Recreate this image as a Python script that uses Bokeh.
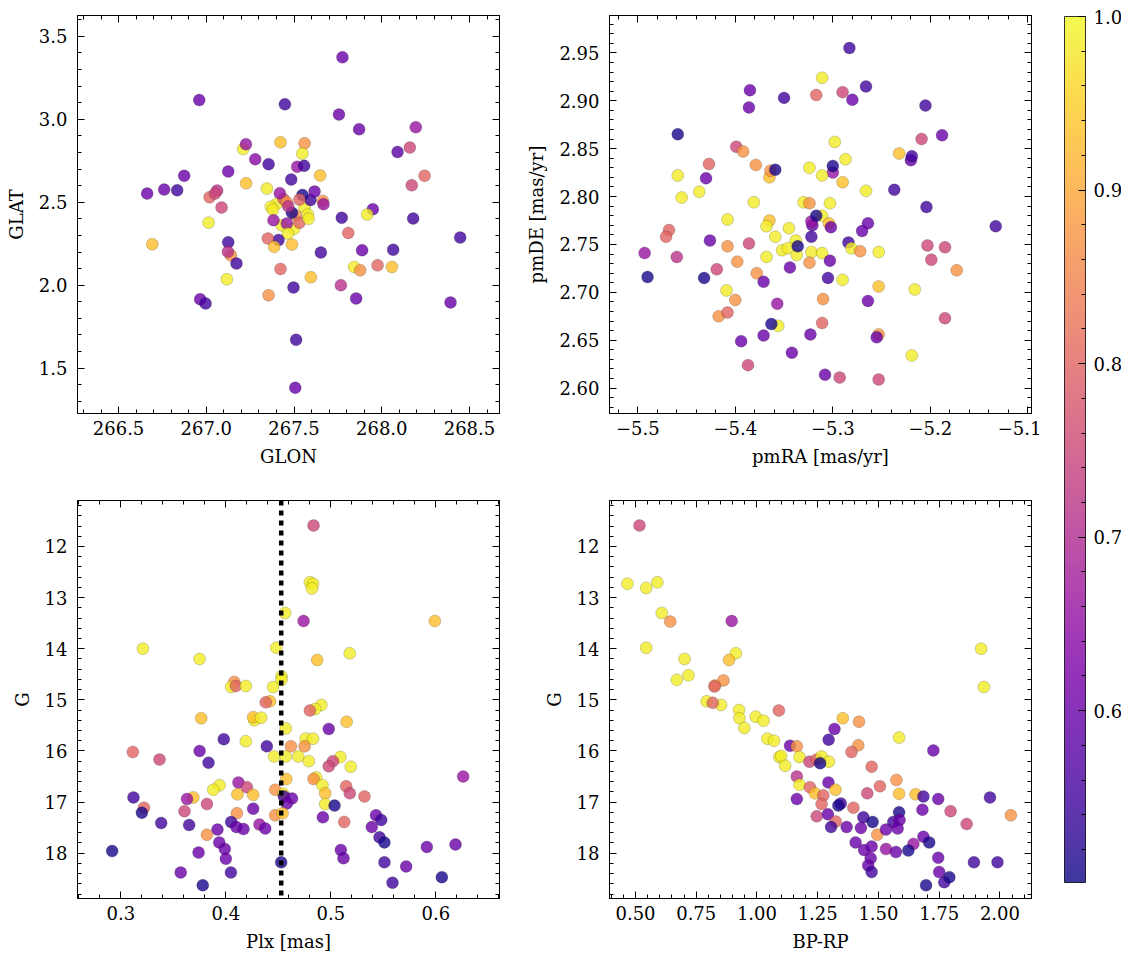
import numpy as np
from bokeh.plotting import figure
from bokeh.models import (ColumnDataSource, LinearColorMapper, ColorBar, LinearAxis,
                          SingleIntervalTicker, FixedTicker, Span, Range1d,
                          CustomJSTickFormatter, CustomLabelingPolicy)
from bokeh.palettes import Plasma256
from bokeh.transform import transform
from bokeh.layouts import row, column
from bokeh.embed import file_html
from bokeh.resources import INLINE

# ---------------- data ----------------
# membership probability range of the colour bar
prob_low, prob_high = 0.501, 1.0
colorbar_ticks = [0.6, 0.7, 0.8, 0.9, 1.0]

# Panel 1: sky positions
glon = [267.400, 267.430, 267.500, 267.510, 267.440, 267.560,
        267.776, 266.960, 267.448, 267.756, 267.871, 268.194, 267.423, 267.560, 267.210, 267.226,
        267.547, 268.090, 268.160, 267.279, 267.355, 267.518, 267.558, 267.125, 266.874, 267.484,
        267.649, 268.244, 267.227, 266.663, 266.760, 266.834, 267.019, 267.062, 267.050, 267.087,
        267.345, 267.419, 267.594, 267.548, 267.617, 267.664, 267.668, 267.459, 267.531, 268.171,
        267.949, 267.917, 268.179, 268.447, 267.772, 267.809, 267.368, 267.380, 267.383, 267.488,
        267.467, 267.459, 267.531, 267.579, 267.583, 267.465, 267.488, 267.412, 267.351, 267.387,
        267.013, 266.692, 267.125, 267.140, 267.123, 267.172, 267.117, 267.423, 267.653, 267.888,
        268.065, 267.843, 267.877, 267.976, 268.058, 267.596, 267.497, 267.355, 267.767, 267.854,
        266.965, 266.996, 268.392, 267.512, 267.507]
glat = [2.490, 2.360, 2.340, 2.420, 2.520, 2.470,
        3.373, 3.116, 3.090, 3.028, 2.940, 2.952, 2.861, 2.855, 2.820, 2.849,
        2.793, 2.803, 2.829, 2.759, 2.729, 2.713, 2.719, 2.685, 2.659, 2.637,
        2.661, 2.659, 2.614, 2.552, 2.576, 2.572, 2.530, 2.570, 2.552, 2.468,
        2.582, 2.554, 2.514, 2.544, 2.564, 2.508, 2.488, 2.500, 2.516, 2.602,
        2.458, 2.426, 2.402, 2.287, 2.406, 2.315, 2.472, 2.455, 2.392, 2.436,
        2.476, 2.372, 2.376, 2.426, 2.400, 2.311, 2.245, 2.273, 2.281, 2.231,
        2.377, 2.247, 2.259, 2.180, 2.201, 2.131, 2.036, 2.098, 2.197, 2.211,
        2.213, 2.110, 2.090, 2.120, 2.110, 2.048, 1.986, 1.940, 2.000, 1.920,
        1.916, 1.890, 1.896, 1.671, 1.382]
prob_sky = [0.985, 0.985, 0.985, 0.87, 0.80, 0.985,
            0.60, 0.60, 0.55, 0.60, 0.60, 0.66, 0.93, 0.87, 0.985, 0.66,
            0.985, 0.58, 0.75, 0.64, 0.55, 0.66, 0.55, 0.60, 0.60, 0.55,
            0.93, 0.80, 0.93, 0.60, 0.60, 0.55, 0.80, 0.71, 0.75, 0.75,
            0.985, 0.66, 0.55, 0.51, 0.60, 0.87, 0.66, 0.87, 0.80, 0.75,
            0.60, 0.985, 0.55, 0.55, 0.55, 0.80, 0.985, 0.985, 0.66, 0.51,
            0.71, 0.66, 0.80, 0.985, 0.985, 0.985, 0.93, 0.55, 0.80, 0.93,
            0.985, 0.93, 0.55, 0.87, 0.71, 0.55, 0.985, 0.80, 0.55, 0.60,
            0.55, 0.985, 0.87, 0.80, 0.93, 0.93, 0.55, 0.87, 0.71, 0.60,
            0.60, 0.55, 0.60, 0.55, 0.60]

# Panel 2: proper motions
pmra = [-5.283, -5.311, -5.385, -5.386, -5.350, -5.317, -5.290, -5.280, -5.266, -5.205,
        -5.459, -5.188, -5.209, -5.298, -5.399, -5.392, -5.232, -5.220, -5.219, -5.427,
        -5.379, -5.287, -5.365, -5.364, -5.359, -5.324, -5.300, -5.300, -5.311, -5.290,
        -5.459, -5.430, -5.437, -5.455, -5.266, -5.237, -5.204, -5.330, -5.324, -5.303,
        -5.381, -5.311, -5.304, -5.321, -5.322, -5.317, -5.302, -5.408, -5.365, -5.368,
        -5.345, -5.264, -5.270, -5.133, -5.468, -5.471, -5.426, -5.386, -5.408, -5.359,
        -5.352, -5.338, -5.346, -5.337, -5.336, -5.322, -5.322, -5.311, -5.284, -5.281,
        -5.272, -5.253, -5.203, -5.185, -5.199, -5.173, -5.493, -5.460, -5.490, -5.432,
        -5.419, -5.398, -5.368, -5.344, -5.324, -5.303, -5.378, -5.371, -5.305, -5.290,
        -5.409, -5.400, -5.310, -5.253, -5.216, -5.264, -5.357, -5.417, -5.408, -5.185,
        -5.356, -5.363, -5.311, -5.371, -5.394, -5.323, -5.253, -5.255, -5.342, -5.219,
        -5.387, -5.308, -5.293, -5.253]
pmde = [2.955, 2.924, 2.911, 2.893, 2.903, 2.906, 2.909, 2.901, 2.915, 2.895,
        2.865, 2.864, 2.860, 2.857, 2.852, 2.847, 2.845, 2.838, 2.842, 2.834,
        2.833, 2.839, 2.820, 2.827, 2.828, 2.830, 2.825, 2.832, 2.822, 2.815,
        2.822, 2.819, 2.805, 2.799, 2.806, 2.807, 2.789, 2.794, 2.793, 2.793,
        2.794, 2.780, 2.772, 2.770, 2.774, 2.780, 2.768, 2.776, 2.775, 2.769,
        2.767, 2.772, 2.764, 2.769, 2.765, 2.758, 2.754, 2.751, 2.748, 2.758,
        2.744, 2.754, 2.746, 2.739, 2.748, 2.758, 2.742, 2.741, 2.752, 2.746,
        2.743, 2.742, 2.749, 2.747, 2.734, 2.723, 2.741, 2.737, 2.716, 2.715,
        2.724, 2.732, 2.737, 2.726, 2.731, 2.733, 2.720, 2.711, 2.715, 2.713,
        2.702, 2.692, 2.693, 2.706, 2.703, 2.691, 2.688, 2.675, 2.679, 2.673,
        2.665, 2.667, 2.668, 2.655, 2.649, 2.656, 2.656, 2.653, 2.637, 2.634,
        2.624, 2.614, 2.611, 2.609]
prob_pm = [0.55, 0.985, 0.60, 0.60, 0.55, 0.80, 0.75, 0.60, 0.55, 0.55,
           0.51, 0.60, 0.75, 0.985, 0.75, 0.87, 0.93, 0.60, 0.55, 0.80,
           0.87, 0.985, 0.93, 0.87, 0.51, 0.985, 0.66, 0.51, 0.985, 0.93,
           0.985, 0.60, 0.985, 0.985, 0.985, 0.55, 0.55, 0.985, 0.87, 0.985,
           0.985, 0.985, 0.93, 0.60, 0.66, 0.51, 0.60, 0.985, 0.93, 0.985,
           0.985, 0.60, 0.60, 0.55, 0.80, 0.80, 0.60, 0.75, 0.87, 0.985,
           0.985, 0.985, 0.985, 0.985, 0.51, 0.55, 0.985, 0.985, 0.55, 0.985,
           0.87, 0.985, 0.75, 0.75, 0.75, 0.87, 0.66, 0.71, 0.51, 0.51,
           0.75, 0.87, 0.985, 0.60, 0.87, 0.60, 0.87, 0.60, 0.55, 0.985,
           0.985, 0.87, 0.87, 0.93, 0.985, 0.60, 0.66, 0.87, 0.80, 0.75,
           0.985, 0.51, 0.80, 0.60, 0.60, 0.60, 0.87, 0.60, 0.60, 0.985,
           0.75, 0.60, 0.75, 0.75]

# Panel 3: parallax vs G
plx = [0.4835, 0.480, 0.483, 0.482, 0.4565, 0.474, 0.599, 0.321, 0.375, 0.448,
       0.518, 0.487, 0.453, 0.453, 0.408, 0.405, 0.4095, 0.419, 0.445, 0.442,
       0.438, 0.491, 0.485, 0.480, 0.3765, 0.427, 0.426, 0.4336, 0.515, 0.457,
       0.498, 0.398, 0.419, 0.476, 0.483, 0.375, 0.439, 0.462, 0.475, 0.446,
       0.457, 0.469, 0.479, 0.3114, 0.3368, 0.3835, 0.509, 0.502, 0.498, 0.519,
       0.626, 0.486, 0.4575, 0.4835, 0.394, 0.388, 0.412, 0.420, 0.492, 0.4946,
       0.5146, 0.518, 0.532, 0.312, 0.369, 0.363, 0.411, 0.426, 0.447, 0.4546,
       0.4553, 0.463, 0.458, 0.382, 0.4946, 0.5035, 0.322, 0.320, 0.3606, 0.426,
       0.4105, 0.447, 0.454, 0.4924, 0.5127, 0.543, 0.548, 0.3384, 0.365, 0.405,
       0.410, 0.4168, 0.392, 0.432, 0.4375, 0.539, 0.382, 0.3937, 0.399, 0.400,
       0.5463, 0.551, 0.2917, 0.374, 0.5095, 0.512, 0.5914, 0.6187, 0.4527, 0.551,
       0.357, 0.4048, 0.5717, 0.6057, 0.5587, 0.378]
gmag_plx = [11.59, 12.70, 12.73, 12.82, 13.30, 13.46, 13.46, 14.00, 14.20, 13.98,
            14.09, 14.22, 14.54, 14.61, 14.65, 14.75, 14.73, 14.73, 14.75, 15.03,
            15.05, 15.10, 15.18, 15.21, 15.36, 15.40, 15.34, 15.35, 15.43, 15.56,
            15.57, 15.77, 15.81, 15.76, 15.76, 16.00, 15.91, 15.91, 15.91, 16.11,
            16.11, 16.11, 16.20, 16.02, 16.17, 16.23, 16.12, 16.20, 16.30, 16.31,
            16.50, 16.52, 16.55, 16.55, 16.67, 16.76, 16.62, 16.71, 16.67, 16.83,
            16.69, 16.83, 16.89, 16.91, 16.91, 16.94, 16.85, 16.86, 16.76, 16.84,
            16.89, 16.93, 17.03, 17.04, 17.04, 17.07, 17.11, 17.21, 17.18, 17.13,
            17.22, 17.26, 17.22, 17.30, 17.39, 17.26, 17.35, 17.41, 17.45, 17.39,
            17.49, 17.53, 17.54, 17.44, 17.52, 17.49, 17.64, 17.79, 17.92, 18.11,
            17.69, 17.79, 17.96, 17.99, 17.94, 18.10, 17.88, 17.83, 18.18, 18.18,
            18.38, 18.38, 18.26, 18.47, 18.58, 18.63]
prob_plx = [0.75, 0.985, 0.985, 0.985, 0.985, 0.66, 0.93, 0.985, 0.985, 0.985,
            0.985, 0.93, 0.985, 0.985, 0.87, 0.985, 0.80, 0.985, 0.985, 0.93,
            0.80, 0.985, 0.985, 0.80, 0.93, 0.985, 0.93, 0.985, 0.93, 0.985,
            0.60, 0.55, 0.985, 0.985, 0.985, 0.60, 0.55, 0.87, 0.87, 0.985,
            0.985, 0.985, 0.985, 0.80, 0.75, 0.55, 0.985, 0.75, 0.75, 0.985,
            0.66, 0.985, 0.93, 0.87, 0.985, 0.985, 0.66, 0.75, 0.985, 0.93,
            0.80, 0.75, 0.80, 0.55, 0.93, 0.66, 0.93, 0.93, 0.87, 0.985,
            0.55, 0.60, 0.60, 0.75, 0.985, 0.51, 0.80, 0.51, 0.75, 0.60,
            0.87, 0.87, 0.93, 0.60, 0.80, 0.60, 0.55, 0.55, 0.55, 0.55,
            0.60, 0.60, 0.60, 0.66, 0.60, 0.60, 0.87, 0.60, 0.60, 0.60,
            0.55, 0.51, 0.51, 0.60, 0.60, 0.60, 0.60, 0.60, 0.51, 0.55,
            0.60, 0.55, 0.60, 0.51, 0.55, 0.51]
plx_line = 0.4527

# Panel 4: colour-magnitude diagram
bp_rp = [0.5165, 0.467, 0.544, 0.590, 0.608, 0.643, 0.896, 0.544, 0.702, 0.718,
         0.670, 0.913, 0.885, 0.862, 0.827, 0.825, 0.793, 0.852, 0.818, 0.926,
         0.928, 0.948, 0.995, 1.027, 1.090, 1.043, 1.070, 1.092, 1.100, 1.116,
         1.136, 1.164, 1.175, 1.295, 1.319, 1.353, 1.420, 1.417, 1.389, 1.585,
         1.726, 1.216, 1.246, 1.266, 1.296, 1.260, 1.472, 1.164, 1.175, 1.218,
         1.239, 1.294, 1.323, 1.273, 1.164, 1.506, 1.574, 1.585, 1.454, 1.653,
         1.685, 1.746, 1.959, 1.345, 1.335, 1.266, 1.397, 1.681, 1.797, 1.585,
         2.045, 1.246, 1.292, 1.324, 1.438, 1.476, 1.561, 1.587, 1.579, 1.863,
         1.305, 1.369, 1.428, 1.495, 1.531, 1.685, 1.709, 1.406, 1.644, 1.441,
         1.472, 1.531, 1.572, 1.623, 1.468, 1.746, 1.893, 1.990, 1.458, 1.472,
         1.750, 1.771, 1.792, 1.696, 1.923, 1.934]
gmag_cmd = [11.59, 12.73, 12.81, 12.70, 13.30, 13.47, 13.46, 13.98, 14.20, 14.52,
            14.61, 14.09, 14.22, 14.62, 14.72, 14.74, 15.03, 15.10, 15.06, 15.20,
            15.36, 15.55, 15.33, 15.41, 15.21, 15.76, 15.80, 16.12, 16.10, 16.29,
            15.90, 15.91, 16.12, 15.78, 15.57, 15.36, 15.43, 15.89, 16.02, 15.74,
            15.99, 16.21, 16.17, 16.11, 16.21, 16.24, 16.31, 16.50, 16.66, 16.71,
            16.83, 16.62, 16.76, 16.87, 16.94, 16.69, 16.57, 16.84, 16.83, 16.85,
            16.89, 16.94, 16.91, 17.03, 17.07, 17.04, 17.11, 17.15, 17.18, 17.20,
            17.26, 17.28, 17.24, 17.38, 17.30, 17.39, 17.39, 17.35, 17.52, 17.43,
            17.49, 17.49, 17.51, 17.64, 17.54, 17.68, 17.79, 17.79, 17.82, 17.94,
            17.87, 17.92, 17.98, 17.95, 18.10, 18.09, 18.18, 18.18, 18.24, 18.37,
            18.37, 18.57, 18.47, 18.63, 14.00, 14.75]
prob_cmd = [0.75, 0.985, 0.985, 0.985, 0.985, 0.87, 0.66, 0.985, 0.985, 0.985,
            0.985, 0.985, 0.93, 0.87, 0.87, 0.80, 0.985, 0.985, 0.80, 0.985,
            0.985, 0.985, 0.985, 0.985, 0.80, 0.985, 0.985, 0.985, 0.985, 0.985,
            0.60, 0.87, 0.985, 0.55, 0.60, 0.93, 0.87, 0.87, 0.80, 0.985,
            0.60, 0.75, 0.80, 0.985, 0.985, 0.51, 0.80, 0.71, 0.985, 0.80,
            0.93, 0.60, 0.93, 0.80, 0.60, 0.80, 0.87, 0.93, 0.75, 0.93,
            0.55, 0.60, 0.55, 0.55, 0.51, 0.80, 0.80, 0.60, 0.75, 0.51,
            0.87, 0.75, 0.60, 0.80, 0.55, 0.51, 0.55, 0.60, 0.60, 0.75,
            0.55, 0.60, 0.60, 0.87, 0.60, 0.60, 0.51, 0.60, 0.66, 0.60,
            0.60, 0.66, 0.60, 0.51, 0.60, 0.60, 0.55, 0.55, 0.60, 0.55,
            0.60, 0.55, 0.51, 0.51, 0.985, 0.985]

# ---------------- styling ----------------
FONT = "DejaVu Serif"
FS = "18px"
mapper = LinearColorMapper(palette=Plasma256, low=prob_low, high=prob_high)


def fmt(n):
    return CustomJSTickFormatter(code="return tick.toFixed(%d).replace('-', '\\u2212');" % n)


def no_labels():
    return CustomLabelingPolicy(code="""
        const idx = [...indices];
        for (const i of idx) { indices.unset(i); }
        return indices;
    """)


def src(x, y, c):
    n = min(len(x), len(y), len(c))
    return ColumnDataSource(dict(x=list(x)[:n], y=list(y)[:n], prob=list(c)[:n]))


def style_axis(ax, ticker, formatter, hidden=False):
    ax.ticker = ticker
    ax.formatter = formatter
    ax.major_tick_in = 7
    ax.major_tick_out = 0
    ax.minor_tick_in = 4
    ax.minor_tick_out = 0
    ax.major_tick_line_color = "black"
    ax.minor_tick_line_color = "black"
    ax.major_tick_line_width = 1
    ax.minor_tick_line_width = 1
    ax.axis_line_color = "black"
    ax.axis_line_width = 1
    ax.major_label_text_font = FONT
    ax.major_label_text_color = "black"
    ax.axis_label_text_font = FONT
    ax.axis_label_text_font_size = FS
    ax.axis_label_text_font_style = "normal"
    ax.axis_label_text_color = "black"
    if hidden:
        ax.major_label_policy = no_labels()
        ax.major_label_text_font_size = "1px"
        ax.major_label_standoff = 0
    else:
        ax.major_label_text_font_size = FS


def make_panel(x, y, c, xr, yr, xt, yt, xf, yf, xlabel, ylabel, borders):
    p = figure(frame_width=422, frame_height=398,
               x_range=Range1d(*xr), y_range=Range1d(*yr),
               output_backend="svg", toolbar_location=None,
               min_border_left=borders[0], min_border_right=borders[1],
               min_border_top=borders[2], min_border_bottom=borders[3],
               background_fill_color="white", border_fill_color="white")
    p.outline_line_color = "black"
    p.outline_line_width = 1
    p.xgrid.visible = False
    p.ygrid.visible = False
    style_axis(p.xaxis[0], xt, xf)
    style_axis(p.yaxis[0], yt, yf)
    p.xaxis[0].axis_label = xlabel
    p.yaxis[0].axis_label = ylabel
    p.xaxis[0].major_label_standoff = 7
    p.yaxis[0].major_label_standoff = 10
    p.xaxis[0].axis_label_standoff = 8
    p.yaxis[0].axis_label_standoff = 9
    top = LinearAxis()
    style_axis(top, xt, xf, hidden=True)
    right = LinearAxis()
    style_axis(right, yt, yf, hidden=True)
    p.add_layout(top, "above")
    p.add_layout(right, "right")
    p.scatter("x", "y", source=src(x, y, c), size=12,
              fill_color=transform("prob", mapper), fill_alpha=0.8,
              line_color="black", line_alpha=0.35, line_width=0.5)
    return p


p1 = make_panel(glon, glat, prob_sky, (266.266, 268.671), (1.227, 3.625),
                SingleIntervalTicker(interval=0.5, num_minor_ticks=5),
                SingleIntervalTicker(interval=0.5, num_minor_ticks=5),
                fmt(1), fmt(1), "GLON", "GLAT", (77, 20, 15, 70))
p2 = make_panel(pmra, pmde, prob_pm, (-5.529, -5.0963), (2.5735, 2.989),
                SingleIntervalTicker(interval=0.1, num_minor_ticks=5),
                SingleIntervalTicker(interval=0.05, num_minor_ticks=5),
                fmt(1), fmt(2), "pmRA [mas/yr]", "pmDE [mas/yr]", (90, 10, 15, 70))
p3 = make_panel(plx, gmag_plx, prob_plx, (0.2587, 0.6606), (18.888, 11.10),
                SingleIntervalTicker(interval=0.1, num_minor_ticks=5),
                SingleIntervalTicker(interval=1, num_minor_ticks=5),
                fmt(1), fmt(0), "Plx [mas]", "G", (77, 20, 17, 55))
p4 = make_panel(bp_rp, gmag_cmd, prob_cmd, (0.393, 2.130), (18.888, 11.10),
                SingleIntervalTicker(interval=0.25, num_minor_ticks=5),
                SingleIntervalTicker(interval=1, num_minor_ticks=5),
                fmt(2), fmt(0), "BP-RP", "G", (90, 10, 17, 55))

p3.add_layout(Span(location=plx_line, dimension="height", line_color="black",
                   line_width=4.5, line_dash="5 5"))

# ---------------- colour bar ----------------
cb_fig = figure(width=80, height=953, output_backend="svg", toolbar_location=None,
                x_axis_type=None, y_axis_type=None,
                min_border_left=0, min_border_right=0, min_border_top=0, min_border_bottom=0,
                outline_line_color=None)
cb_fig.xgrid.visible = False
cb_fig.ygrid.visible = False
minor = [round(v, 2) for v in np.arange(0.52, 1.0, 0.02)]
cbar = ColorBar(color_mapper=mapper, width=21, height=866, location=(23, 71),
                padding=0, margin=0, scale_alpha=0.8,
                ticker=FixedTicker(ticks=colorbar_ticks, minor_ticks=minor),
                formatter=fmt(1),
                major_tick_in=7, major_tick_out=0, minor_tick_in=4, minor_tick_out=0,
                major_tick_line_color="black", minor_tick_line_color="black",
                bar_line_color="black", bar_line_width=1,
                label_standoff=8, major_label_text_font=FONT,
                major_label_text_font_size=FS, major_label_text_color="black",
                background_fill_alpha=0, border_line_color=None)
cb_fig.add_layout(cbar, "center")

layout = row(column(p1, p3), column(p2, p4), cb_fig)
open("out.html", "w").write(file_html(layout, INLINE))
